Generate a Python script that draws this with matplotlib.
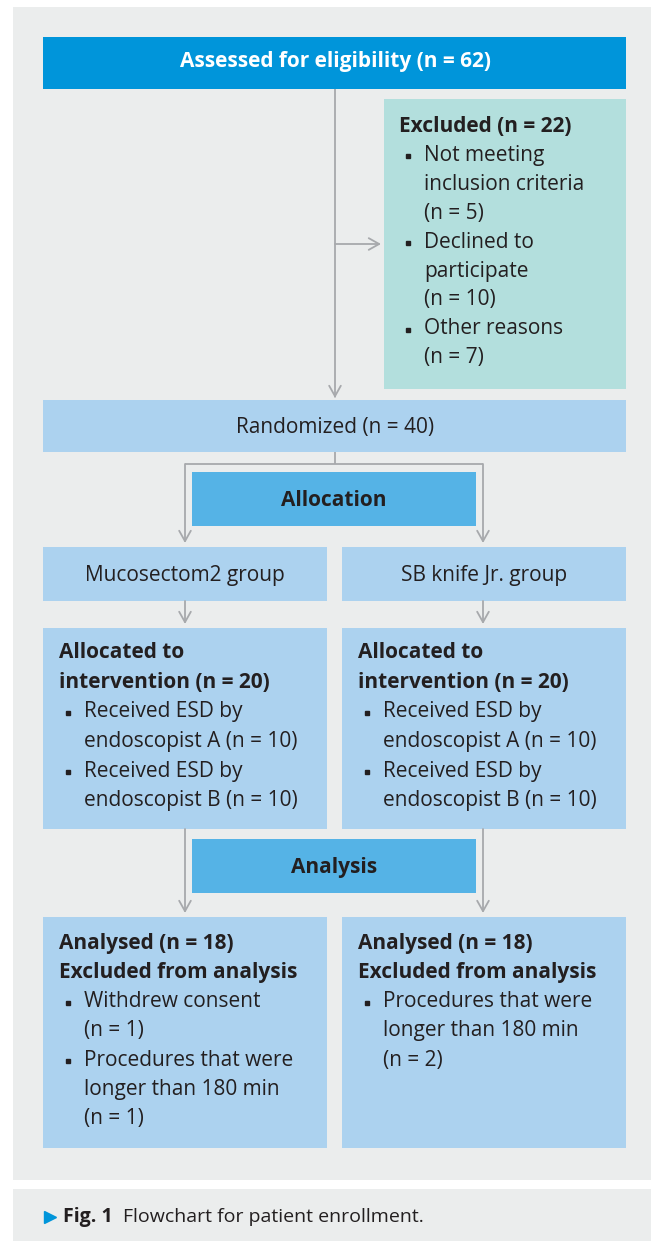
import matplotlib.pyplot as plt
from matplotlib.patches import Rectangle

plt.rcParams["font.family"] = ["Open Sans", "DejaVu Sans"]

# flow counts
ASSESSED = 62
EXCLUDED = 22
EXCLUDED_REASONS = ["Not meeting\ninclusion criteria\n(n = {})", "Declined to\nparticipate\n(n = {})", "Other reasons\n(n = {})"]
EXCLUDED_COUNTS = [5, 10, 7]
RANDOMIZED = 40
GROUPS = ["Mucosectom2 group", "SB knife Jr. group"]
ALLOCATED = [20, 20]
ENDOSCOPISTS = ["A", "B"]
ESD_COUNTS = [[10, 10], [10, 10]]
ANALYSED = [18, 18]
ANALYSIS_EXCL_REASONS = [
    ["Withdrew consent\n(n = {})", "Procedures that were\nlonger than 180 min\n(n = {})"],
    ["Procedures that were\nlonger than 180 min\n(n = {})"],
]
ANALYSIS_EXCL_COUNTS = [[1, 1], [2]]
CAPTION_LABEL = "Fig. 1"
CAPTION_TEXT = "Flowchart for patient enrollment."

PANEL = "#ebeded"
DARK_BLUE = "#0095da"
MID_BLUE = "#55b3e6"
LIGHT_BLUE = "#acd2ef"
TEAL = "#b3dfdd"
TEXT = "#231f20"
LINE = "#a7a9ac"
FS = 15

fig = plt.figure(figsize=(6.51, 12.41), dpi=100)
ax = fig.add_axes([0, 0, 1, 1])
ax.set_xlim(0, 651)
ax.set_ylim(1241, 0)
ax.axis("off")


def box(x0, y0, x1, y1, color):
    ax.add_patch(Rectangle((x0, y0), x1 - x0, y1 - y0, facecolor=color, edgecolor="none"))


def arrow(x0, y0, x1, y1):
    ax.annotate("", xy=(x1, y1), xytext=(x0, y0),
                arrowprops=dict(arrowstyle="->,head_length=0.75,head_width=0.42",
                                color=LINE, lw=1.3, mutation_scale=10,
                                shrinkA=0, shrinkB=0))


def line(xs, ys):
    ax.plot(xs, ys, color=LINE, lw=1.3, solid_capstyle="butt")


def text_block(x, y0, step, rows):
    # rows: (text, bold, bullet)
    y = y0
    for txt, bold, bullet in rows:
        for k, part in enumerate(txt.split("\n")):
            if bullet:
                if k == 0:
                    ax.plot(x + 8.5, y + 1, marker="s", ms=3.4, color=TEXT)
                ax.text(x + 25, y, part, fontsize=FS, color=TEXT, va="center")
            else:
                ax.text(x, y, part, fontsize=FS, color=TEXT, va="center",
                        fontweight="bold" if bold else "normal")
            y += step


# background panels
box(13, 7, 651, 1180, PANEL)
box(13, 1189, 651, 1241, PANEL)

# connectors
line([335, 335], [89, 397])
arrow(335, 397 - 1, 335, 398)
arrow(335, 244, 381, 244)
line([335, 335], [452, 464])
line([185, 483], [464, 464])
for cx in (185, 483):
    arrow(cx, 464, cx, 543)
    arrow(cx, 601, cx, 624)
    arrow(cx, 829, cx, 913)

# top
box(43, 37, 626, 89, DARK_BLUE)
ax.text(335, 62, f"Assessed for eligibility (n = {ASSESSED})", fontsize=FS,
        fontweight="bold", color="white", ha="center", va="center")

box(384, 99, 626, 389, TEAL)
rows = [(f"Excluded (n = {EXCLUDED})", True, False)]
rows += [(r.format(c), False, True) for r, c in zip(EXCLUDED_REASONS, EXCLUDED_COUNTS)]
text_block(399, 126, 29, rows)

box(43, 400, 626, 452, LIGHT_BLUE)
ax.text(335, 427, f"Randomized (n = {RANDOMIZED})", fontsize=FS, color=TEXT,
        ha="center", va="center")

box(192, 472, 476, 526, MID_BLUE)
ax.text(334, 500, "Allocation", fontsize=FS, fontweight="bold", color=TEXT,
        ha="center", va="center")

box(192, 839, 476, 893, MID_BLUE)
ax.text(334, 867, "Analysis", fontsize=FS, fontweight="bold", color=TEXT,
        ha="center", va="center")

for i, (x0, x1) in enumerate([(43, 327), (342, 626)]):
    cx = (x0 + x1) / 2
    box(x0, 547, x1, 601, LIGHT_BLUE)
    ax.text(cx, 575, GROUPS[i], fontsize=FS, color=TEXT, ha="center", va="center")

    box(x0, 628, x1, 829, LIGHT_BLUE)
    rows = [(f"Allocated to\nintervention (n = {ALLOCATED[i]})", True, False)]
    rows += [(f"Received ESD by\nendoscopist {e} (n = {n})", False, True)
             for e, n in zip(ENDOSCOPISTS, ESD_COUNTS[i])]
    text_block(x0 + 16, 653, 29.5, rows)

    box(x0, 917, x1, 1148, LIGHT_BLUE)
    rows = [(f"Analysed (n = {ANALYSED[i]})\nExcluded from analysis", True, False)]
    rows += [(r.format(c), False, True)
             for r, c in zip(ANALYSIS_EXCL_REASONS[i], ANALYSIS_EXCL_COUNTS[i])]
    text_block(x0 + 16, 943, 29.3, rows)

# caption
ax.plot(50, 1217, marker=">", ms=9, color=DARK_BLUE)
ax.text(63, 1217, CAPTION_LABEL, fontsize=14, fontweight="bold", color=TEXT, va="center")
ax.text(123, 1217, CAPTION_TEXT, fontsize=14, color=TEXT, va="center")

fig.savefig("out.png", dpi=100, facecolor="white")
